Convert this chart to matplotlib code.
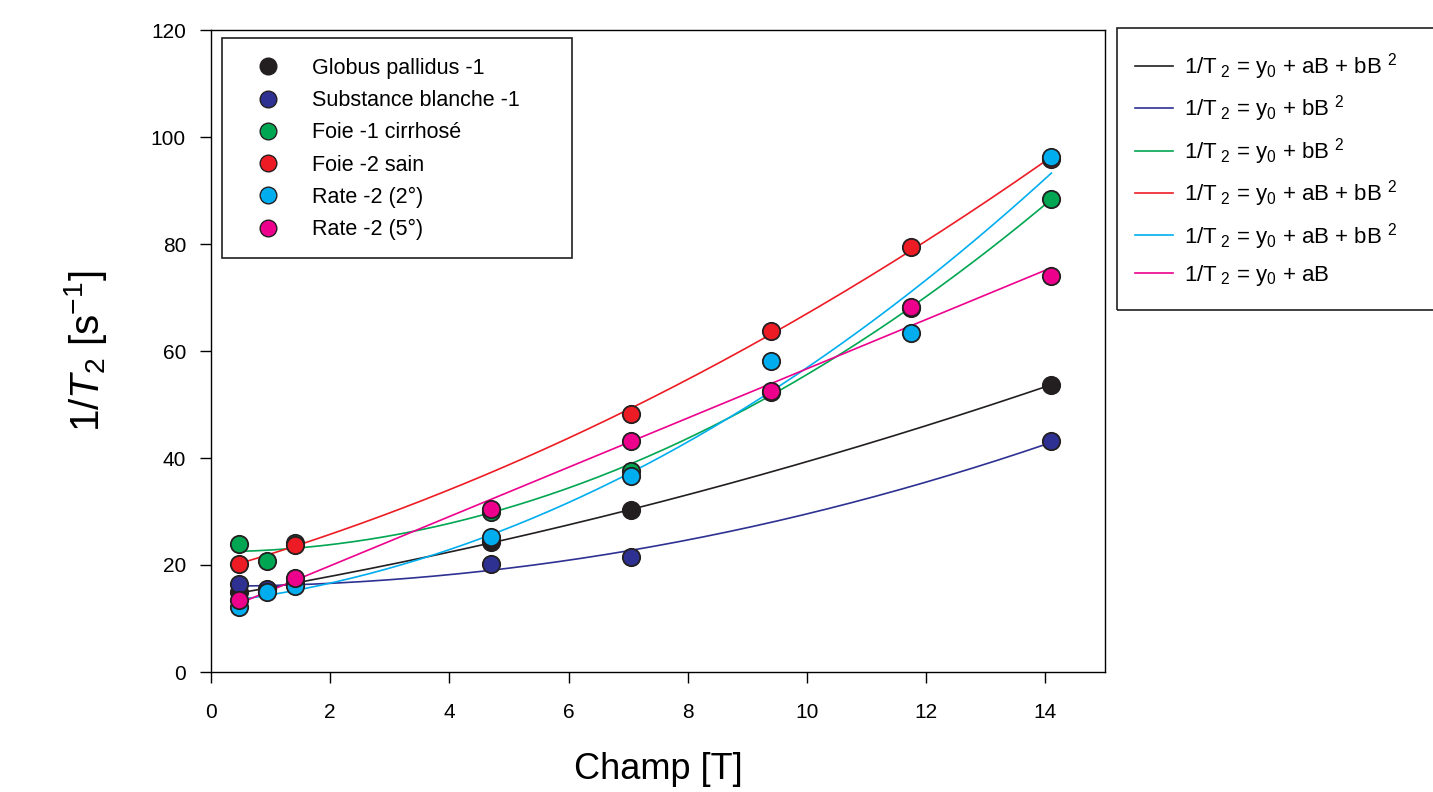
import numpy as np
import matplotlib.pyplot as plt
from matplotlib.lines import Line2D
from matplotlib.patches import Rectangle

plt.rcParams['font.family'] = ['Liberation Sans', 'DejaVu Sans']
plt.rcParams['mathtext.fontset'] = 'custom'
plt.rcParams['mathtext.rm'] = 'Liberation Sans'
plt.rcParams['mathtext.it'] = 'Liberation Sans:italic'

# data
names = ['Globus pallidus -1', 'Substance blanche -1', 'Foie -1 cirrhosé',
         'Foie -2 sain', 'Rate -2 (2°)', 'Rate -2 (5°)']
colors = ['#231f20', '#2e3192', '#00a651', '#ed1c24', '#00aeef', '#ec008c']

gp_x = [0.47, 0.94, 1.41, 4.7, 7.05, 14.1]
gp_y = [15.0, 15.4, 16.6, 24.3, 30.3, 53.7]
sb_x = [0.47, 0.94, 4.7, 7.05, 14.1]
sb_y = [16.5, 15.6, 20.2, 21.5, 43.1]
f1_x = [0.47, 0.94, 1.41, 4.7, 7.05, 9.4, 11.74, 14.1]
f1_y = [24.0, 20.8, 24.2, 30.0, 37.6, 52.3, 68.0, 88.5]
f2_x = [0.47, 1.41, 7.05, 9.4, 11.74, 14.1]
f2_y = [20.2, 23.8, 48.3, 63.8, 79.4, 95.8]
r2_x = [0.47, 0.94, 1.41, 4.7, 7.05, 9.4, 11.74, 14.1]
r2_y = [12.2, 15.0, 16.0, 25.2, 36.6, 58.2, 63.4, 96.2]
r5_x = [0.47, 1.41, 4.7, 7.05, 9.4, 11.74, 14.1]
r5_y = [13.4, 17.6, 30.5, 43.2, 52.6, 68.2, 74.0]

series_x = [gp_x, sb_x, f1_x, f2_x, r2_x, r5_x]
series_y = [gp_y, sb_y, f1_y, f2_y, r2_y, r5_y]
# regression model of each curve: powers of B used
models = [[0, 1, 2], [0, 2], [0, 2], [0, 1, 2], [0, 1, 2], [0, 1]]
fit_labels = [r'1/T$_{\ 2}$ = y$_0$ + aB + bB $^{2}$',
              r'1/T$_{\ 2}$ = y$_0$ + bB $^{2}$',
              r'1/T$_{\ 2}$ = y$_0$ + bB $^{2}$',
              r'1/T$_{\ 2}$ = y$_0$ + aB + bB $^{2}$',
              r'1/T$_{\ 2}$ = y$_0$ + aB + bB $^{2}$',
              r'1/T$_{\ 2}$ = y$_0$ + aB']

W, H = 1433, 792
fig = plt.figure(figsize=(W / 100, H / 100), dpi=100)
ax = fig.add_axes([211 / W, 1 - 672 / H, (1105 - 211) / W, (672 - 30) / H])

pt_handles = []
ln_handles = []
for i in range(len(names)):
    x = np.array(series_x[i])
    y = np.array(series_y[i])
    A = np.column_stack([x ** p for p in models[i]])
    coef = np.linalg.lstsq(A, y, rcond=None)[0]
    xs = np.linspace(x.min(), x.max(), 200)
    ys = np.column_stack([xs ** p for p in models[i]]) @ coef
    ln, = ax.plot(xs, ys, color=colors[i], lw=1.2, zorder=2)
    ln_handles.append(ln)

for i in range(len(names)):
    ax.errorbar(series_x[i], series_y[i], yerr=0.8, fmt='none', ecolor='#231f20',
                capsize=4.5, elinewidth=1, capthick=1.2, zorder=3 + i * 2)
    ax.plot(series_x[i], series_y[i], 'o', ms=12.5, mfc=colors[i], mec='#231f20',
            mew=1.3, zorder=4 + i * 2)
    pt_handles.append(Line2D([], [], ls='none', marker='o', ms=12, mfc=colors[i],
                             mec='#231f20', mew=1))

ax.set_xlim(0, 15)
ax.set_ylim(0, 120)
ax.set_xticks(np.arange(0, 16, 2))
ax.set_yticks(np.arange(0, 121, 20))
ax.tick_params(labelsize=15, length=8, width=1, direction='out')
ax.tick_params(axis='x', pad=14)
ax.tick_params(axis='y', pad=10)
for s in ax.spines.values():
    s.set_linewidth(1)
ax.set_xlabel('Champ [T]', fontsize=26, labelpad=22)
ax.set_ylabel(r'1/$T_2$ [s$^{-1}$]', fontsize=29, labelpad=30)

# legend of the points, framed by hand
fig.patches.append(Rectangle((222 / W, 1 - 258 / H), 350 / W, 220 / H,
                             transform=fig.transFigure, fill=False,
                             edgecolor='#231f20', lw=1.2, zorder=20))
leg1 = fig.legend(pt_handles, names, loc='upper left',
                  bbox_to_anchor=(246.5 / W, 1 - 58 / H), fontsize=15.5,
                  frameon=False, borderpad=0, borderaxespad=0,
                  labelspacing=0.52, handlelength=2.0, handletextpad=1.05)

# legend of the fitted curves
fig.patches.append(Rectangle((1117 / W, 1 - 310 / H), 0.3, 282 / H,
                             transform=fig.transFigure, fill=False,
                             edgecolor='#231f20', lw=1.2))
fig.legend(ln_handles, fit_labels, loc='upper left',
           bbox_to_anchor=(1135 / W, 1 - 51 / H), fontsize=16,
           frameon=False, borderpad=0, borderaxespad=0,
           labelspacing=0.52, handlelength=1.7, handletextpad=0.5)

fig.savefig('out.png', dpi=100)
